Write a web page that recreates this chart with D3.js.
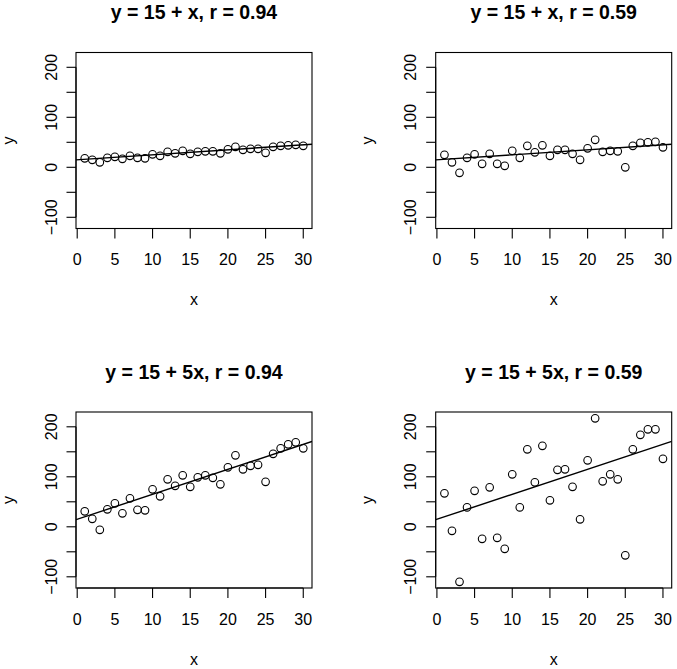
<!doctype html>
<html>
<head>
<meta charset="utf-8">
<title>scatter panels</title>
<script src="https://cdnjs.cloudflare.com/ajax/libs/d3/7.8.5/d3.min.js"></script>
<style>
body { margin: 0; background: #fff; }
svg text { font-family: "Liberation Sans", Arial, Helvetica, sans-serif; fill: #000; }
</style>
</head>
<body>
<div id="chart"></div>
<script>
// x values 1..30 shared by all panels
var xVals = [1,2,3,4,5,6,7,8,9,10,11,12,13,14,15,16,17,18,19,20,21,22,23,24,25,26,27,28,29,30];

// y = 15 + x, r = 0.94
var yTopLeft = [18,15,10,19,21,17,23,19,18,26,23,31,28,33,27,31,32,32,28,36,41,35,37,37,29,41,43,44,45,43];
// y = 15 + x, r = 0.59
var yTopRight = [25,10,-11,19,26,7,27,7,3,33,19,43,30,44,23,35,35,27,15,38,55,31,33,32,0,43,49,50,51,40];
// y = 15 + 5x, r = 0.94
var yBotLeft = [31,16,-6,35,47,27,57,34,33,75,61,95,82,103,80,99,103,98,85,119,143,115,122,124,90,146,157,165,169,157];
// y = 15 + 5x, r = 0.59
var yBotRight = [67,-8,-110,39,72,-24,79,-22,-44,105,39,155,89,162,53,114,115,80,15,133,217,91,105,95,-57,155,184,195,195,136];

var titles = ["y = 15 + x, r = 0.94", "y = 15 + x, r = 0.59", "y = 15 + 5x, r = 0.94", "y = 15 + 5x, r = 0.59"];
var intercepts = [15, 15, 15, 15];
var slopes = [1, 1, 5, 5];

var xTicks = [0,5,10,15,20,25,30];
var yTicks = [-100,-50,0,50,100,150,200];
var yTickLabels = [-100,0,100,200];

var width = 677, height = 669;
var boxW = 236, boxH = 176;
var origins = [[76, 52.5], [435.7, 52.5], [76, 412], [435.7, 412]];
var allY = [yTopLeft, yTopRight, yBotLeft, yBotRight];

var svg = d3.select("#chart").append("svg")
	.attr("width", width)
	.attr("height", height);

var x = d3.scaleLinear().domain([-0.16, 31.16]).range([0, boxW]);
var y = d3.scaleLinear().domain([-122.4, 229.6]).range([boxH, 0]);

allY.forEach(function(ys, i) {
	var g = svg.append("g")
		.attr("transform", "translate(" + origins[i][0] + "," + origins[i][1] + ")");

	// title
	g.append("text")
		.attr("x", boxW / 2)
		.attr("y", -33.5)
		.attr("text-anchor", "middle")
		.style("font-size", "19.5px")
		.style("font-weight", "bold")
		.text(titles[i]);

	// fitted line, clipped to the box
	var clipId = "clip" + i;
	g.append("clipPath").attr("id", clipId)
		.append("rect").attr("width", boxW).attr("height", boxH);

	var x0 = x.domain()[0], x1 = x.domain()[1];
	g.append("line")
		.attr("clip-path", "url(#" + clipId + ")")
		.attr("x1", x(x0)).attr("y1", y(intercepts[i] + slopes[i] * x0))
		.attr("x2", x(x1)).attr("y2", y(intercepts[i] + slopes[i] * x1))
		.attr("stroke", "#000")
		.attr("stroke-width", 1.4);

	// points
	g.selectAll("circle")
		.data(xVals)
		.enter().append("circle")
		.attr("cx", function(d) { return x(d); })
		.attr("cy", function(d, k) { return y(ys[k]); })
		.attr("r", 3.8)
		.attr("fill", "none")
		.attr("stroke", "#000")
		.attr("stroke-width", 1.1);

	// box
	g.append("rect")
		.attr("width", boxW)
		.attr("height", boxH)
		.attr("fill", "none")
		.attr("stroke", "#000")
		.attr("stroke-width", 1.1);

	// x axis
	var xa = g.append("g").attr("transform", "translate(0," + boxH + ")");
	xa.append("line")
		.attr("x1", x(xTicks[0])).attr("x2", x(xTicks[xTicks.length - 1]))
		.attr("stroke", "#000").attr("stroke-width", 1.1);
	xTicks.forEach(function(t) {
		xa.append("line")
			.attr("x1", x(t)).attr("x2", x(t))
			.attr("y1", 0).attr("y2", 10)
			.attr("stroke", "#000").attr("stroke-width", 1.1);
		xa.append("text")
			.attr("x", x(t)).attr("y", 36.5)
			.attr("text-anchor", "middle")
			.style("font-size", "16px")
			.text(t);
	});
	xa.append("text")
		.attr("x", boxW / 2).attr("y", 76.5)
		.attr("text-anchor", "middle")
		.style("font-size", "16px")
		.text("x");

	// y axis
	var ya = g.append("g");
	ya.append("line")
		.attr("y1", y(yTicks[0])).attr("y2", y(yTicks[yTicks.length - 1]))
		.attr("stroke", "#000").attr("stroke-width", 1.1);
	yTicks.forEach(function(t) {
		ya.append("line")
			.attr("x1", -9.5).attr("x2", 0)
			.attr("y1", y(t)).attr("y2", y(t))
			.attr("stroke", "#000").attr("stroke-width", 1.1);
	});
	yTickLabels.forEach(function(t) {
		ya.append("text")
			.attr("transform", "translate(-19.5," + y(t) + ") rotate(-90)")
			.attr("text-anchor", "middle")
			.style("font-size", "16px")
			.text(d3.format("")(t).replace("-", "\u2212"));
	});
	ya.append("text")
		.attr("transform", "translate(-62.5," + (boxH / 2) + ") rotate(-90)")
		.attr("text-anchor", "middle")
		.style("font-size", "16px")
		.text("y");
});
</script>
</body>
</html>
